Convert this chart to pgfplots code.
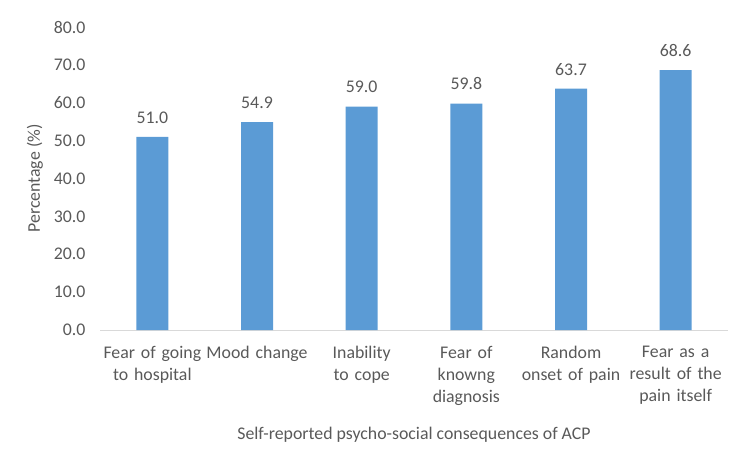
\documentclass[border=0pt]{standalone}
\usepackage{pgfplots}
\pgfplotsset{compat=1.18}
\usepackage{fontspec}
\setmainfont{Carlito}
\definecolor{barblue}{HTML}{5B9BD5}
\definecolor{txtgray}{HTML}{595959}
\definecolor{axgray}{HTML}{D9D9D9}
\begin{document}
\begin{tikzpicture}[x=1pt,y=1pt]
\useasboundingbox (0,0) rectangle (750,467);
\begin{axis}[
  at={(100pt,137pt)}, anchor=south west,
  scale only axis, width=628pt, height=303pt,
  ybar, bar width=32pt,
  xmin=-0.5, xmax=5.5, ymin=0, ymax=80,
  ytick={0,10,...,80},
  xtick=data,
  xticklabels={Fear of going to hospital, Mood change, Inability to cope, Fear of knowng diagnosis, Random onset of pain, Fear as a result of the pain itself},
  axis x line*=bottom, axis y line*=left,
  x axis line style={draw=axgray, line width=1pt},
  y axis line style={draw=none},
  major tick length=0pt,
  /pgf/number format/assume math mode=true,
  yticklabel={\pgfmathprintnumber[fixed,fixed zerofill,precision=1]{\tick}},
  font=\fontsize{17.8}{22}\selectfont,
  tick label style={text=txtgray, font=\fontsize{17.8}{22}\selectfont},
  yticklabel style={anchor=east, xshift=-11pt},
  xticklabel style={text width=110pt, align=center, anchor=north, yshift=-13pt},
  ylabel={Percentage (\%)},
  ylabel style={at={(axis description cs:-0.1035,0.5)}, anchor=center, text=txtgray, font=\fontsize{17.8}{22}\selectfont},
  xlabel={Self-reported psycho-social consequences of ACP},
  xlabel style={at={(axis description cs:0.5,-0.3465)}, anchor=center, text=txtgray, font=\fontsize{17.8}{22}\selectfont},
  nodes near coords={\pgfmathprintnumber[fixed,fixed zerofill,precision=1,assume math mode=true]{\pgfplotspointmeta}},
  every node near coord/.append style={text=txtgray, font=\fontsize{17.8}{22}\selectfont, yshift=10pt},
]
\addplot[fill=barblue, draw=none] coordinates {(0,51.0) (1,54.9) (2,59.0) (3,59.8) (4,63.7) (5,68.6)};
\end{axis}
\end{tikzpicture}
\end{document}
